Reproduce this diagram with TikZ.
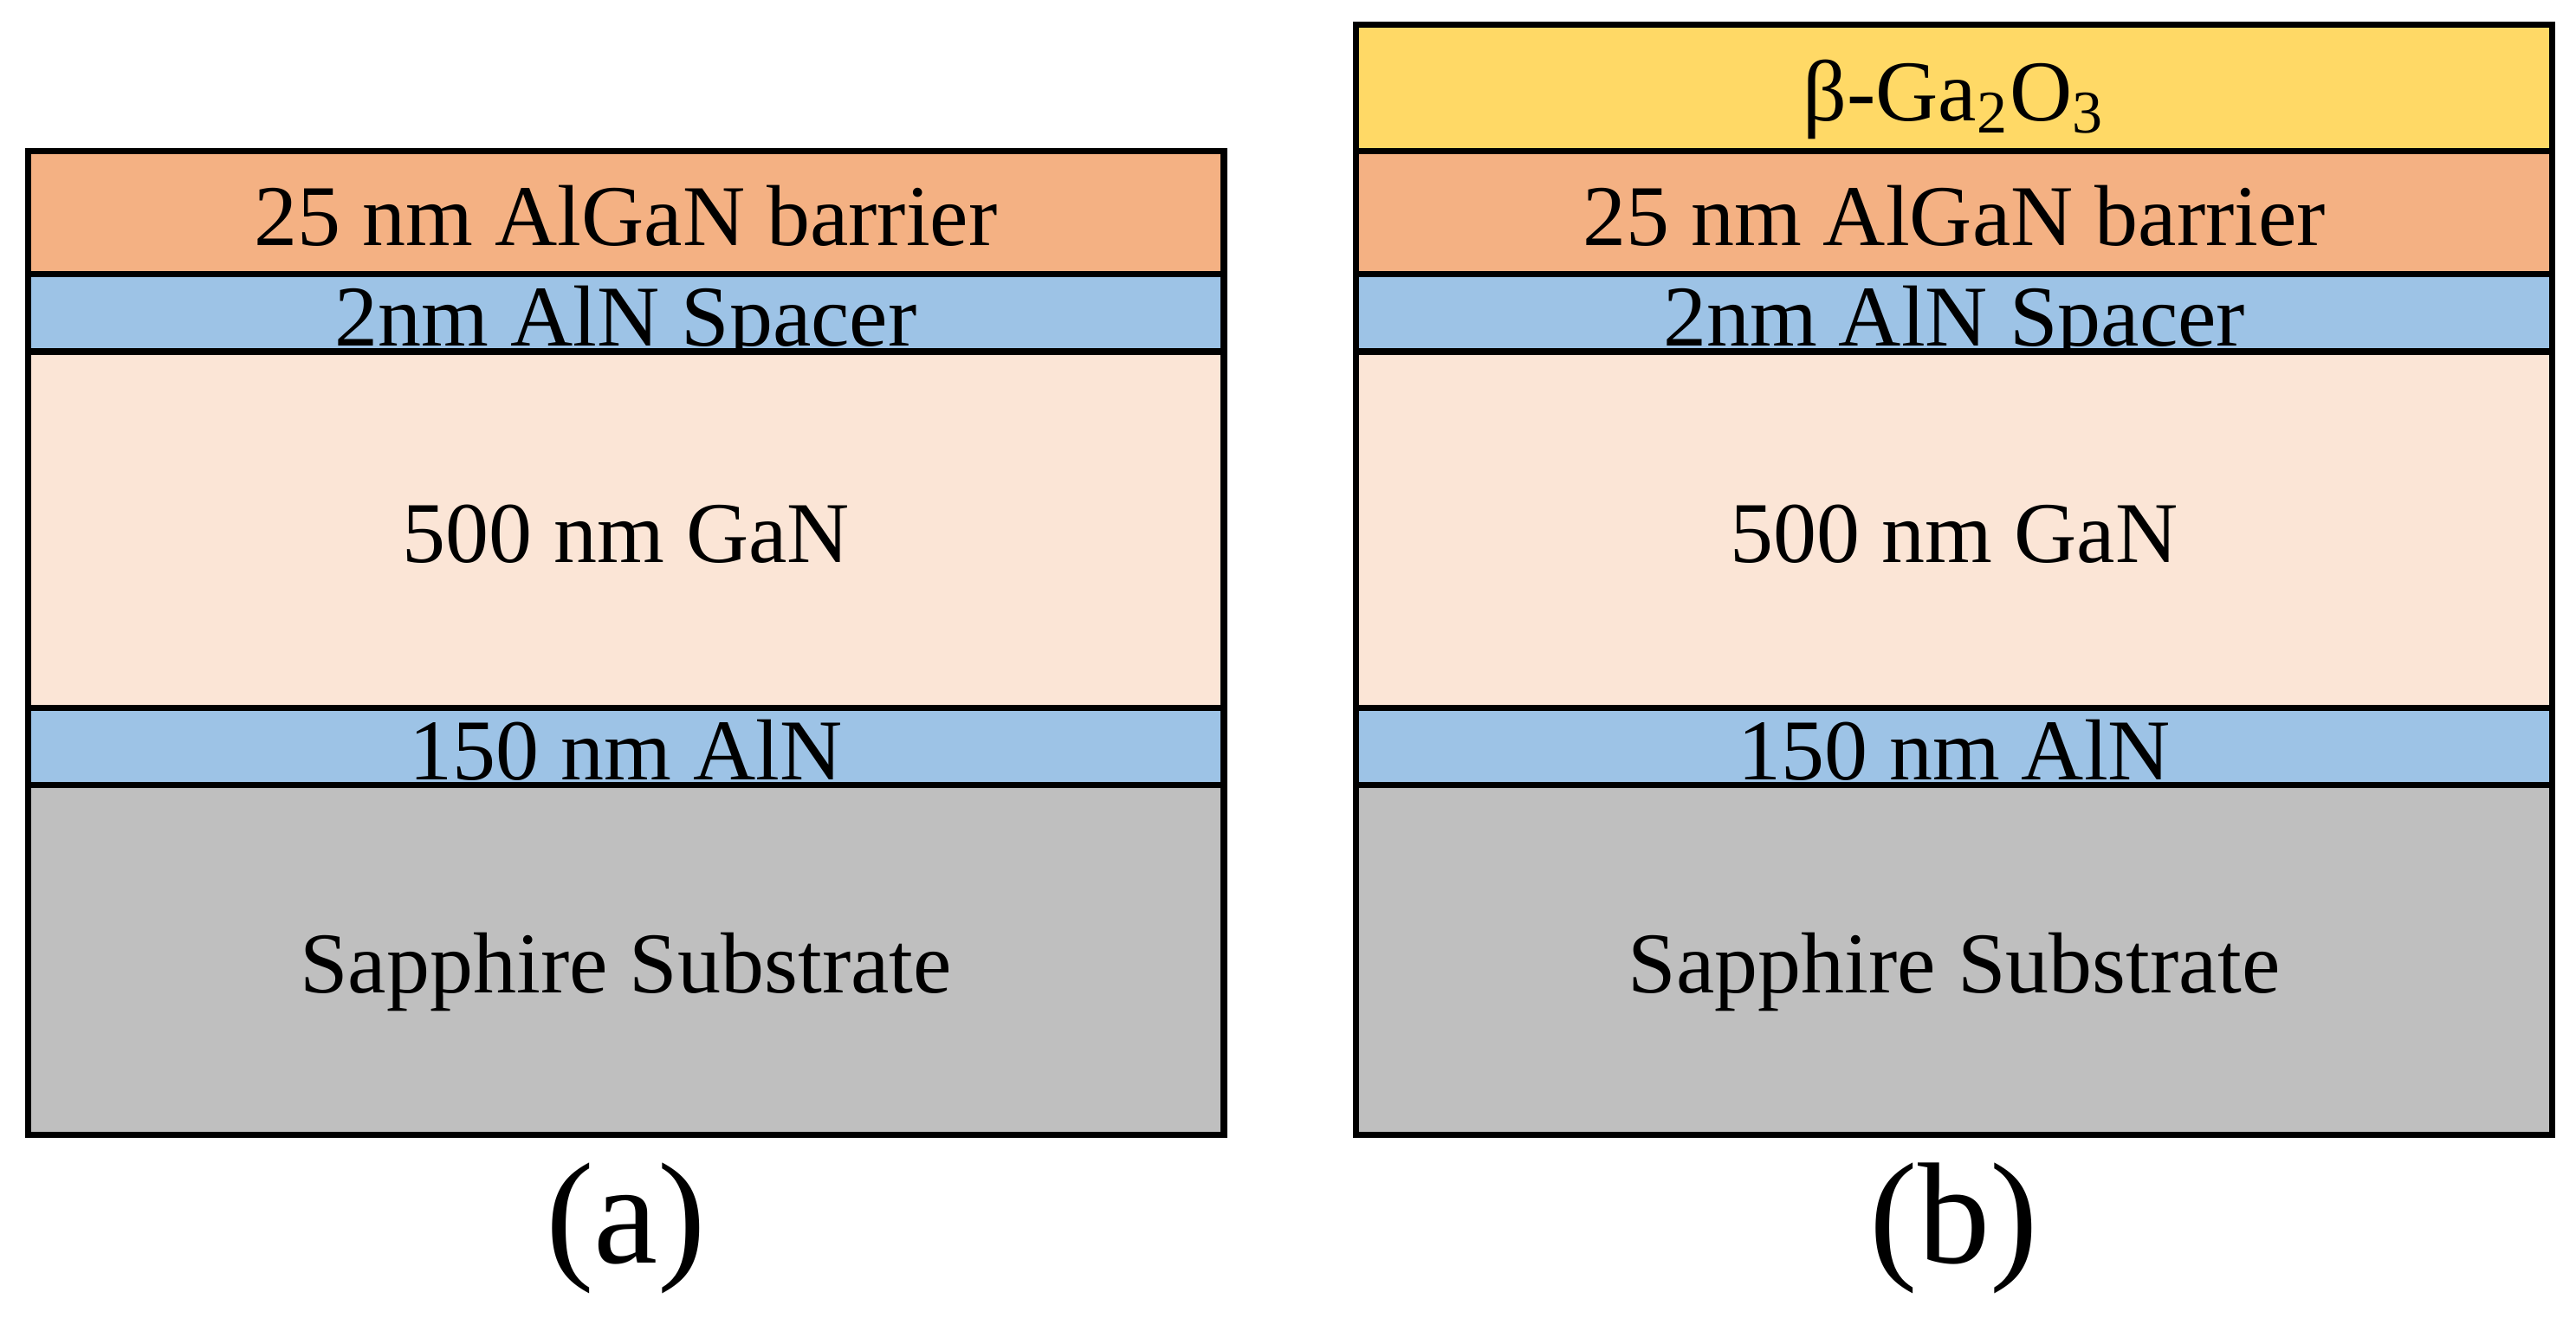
\documentclass[tikz,border=0pt]{standalone}
\usepackage{fontspec}
\setmainfont{Liberation Serif}
\usetikzlibrary{positioning}
\definecolor{barrier}{HTML}{F4B183}
\definecolor{spacer}{HTML}{9DC3E6}
\definecolor{gan}{HTML}{FBE5D6}
\definecolor{sapphire}{HTML}{BFBFBF}
\definecolor{gao}{HTML}{FFD966}
\tikzset{
  layer/.style={draw=black, line width=1.1pt, minimum width=7.28cm, inner sep=0pt,
    outer sep=0pt, anchor=north, text height=0.4cm, text depth=0pt,
    font=\fontsize{15}{15}\selectfont},
  caption/.style={font=\fontsize{25}{25}\selectfont}
}
\begin{document}
\begin{tikzpicture}
  \useasboundingbox (0,0) rectangle (15.68,8.1);
  % Stack (a)
  \begin{scope}[shift={(3.81,0)}]
    \node[layer, fill=barrier, minimum height=0.75cm] (a1) at (0,7.18) {25 nm AlGaN barrier};
    \node[layer, fill=spacer, minimum height=0.47cm, below=0pt of a1] (a2) {2nm AlN Spacer};
    \node[layer, fill=gan, minimum height=2.17cm, below=0pt of a2] (a3) {500 nm GaN};
    \node[layer, fill=spacer, minimum height=0.47cm, below=0pt of a3] (a4) {150 nm AlN};
    \node[layer, fill=sapphire, minimum height=2.13cm, below=0pt of a4] (a5) {Sapphire Substrate};
    \node[caption] (capa) at (0,0.62) {(a)};
  \end{scope}

  % Stack (b)
  \begin{scope}[shift={(11.895,0)}]
    \node[layer, fill=gao, minimum height=0.77cm] (b0) at (0,7.95) {β-Ga\textsubscript{2}O\textsubscript{3}};
    \node[layer, fill=barrier, minimum height=0.75cm, below=0pt of b0] (b1) {25 nm AlGaN barrier};
    \node[layer, fill=spacer, minimum height=0.47cm, below=0pt of b1] (b2) {2nm AlN Spacer};
    \node[layer, fill=gan, minimum height=2.17cm, below=0pt of b2] (b3) {500 nm GaN};
    \node[layer, fill=spacer, minimum height=0.47cm, below=0pt of b3] (b4) {150 nm AlN};
    \node[layer, fill=sapphire, minimum height=2.13cm, below=0pt of b4] (b5) {Sapphire Substrate};
    \node[caption] (capb) at (0,0.62) {(b)};
  \end{scope}
\end{tikzpicture}
\end{document}
